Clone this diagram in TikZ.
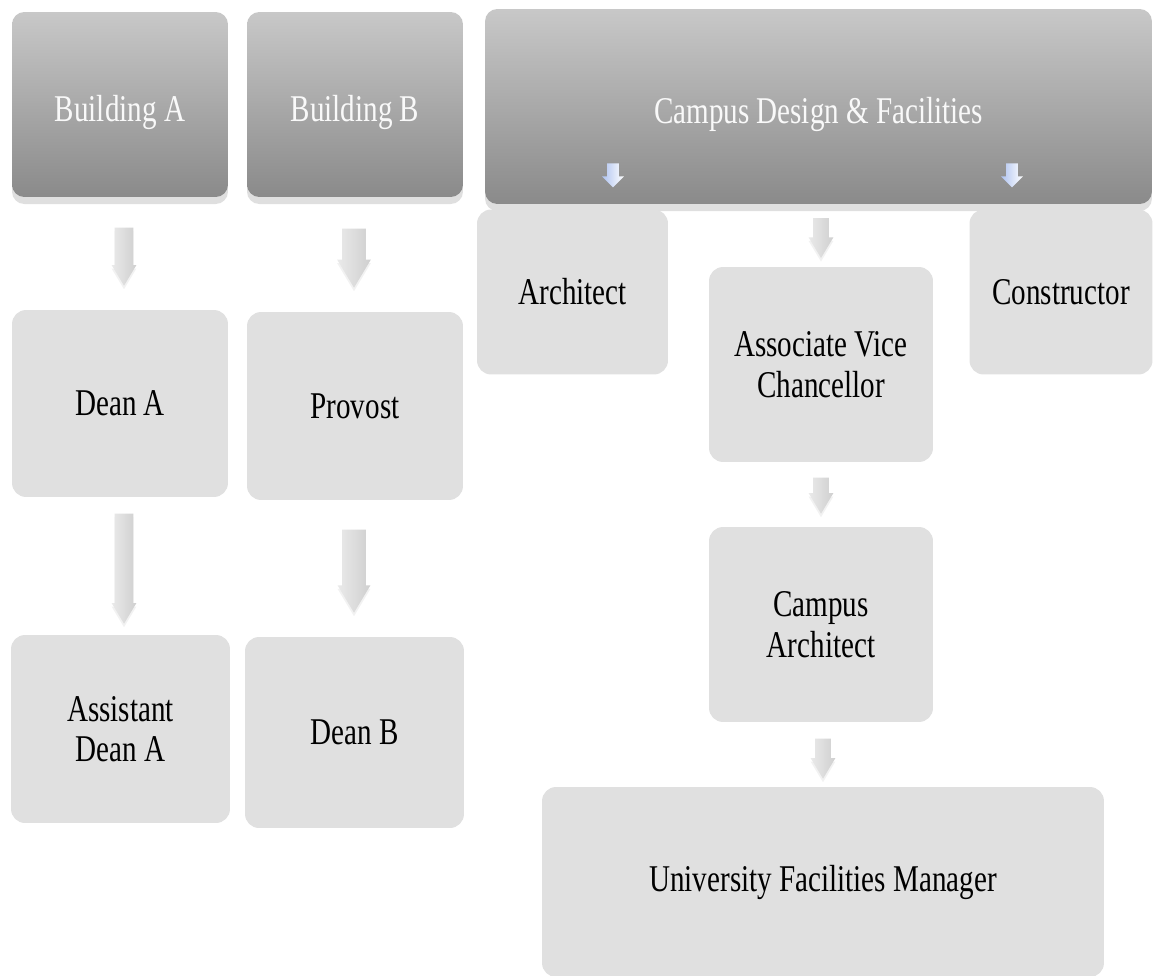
\documentclass[tikz,border=0pt]{standalone}
\usepackage{fontspec}
\newfontfamily\chartfont{Liberation Serif}[FakeStretch=0.77]
\usetikzlibrary{shapes.arrows,shadows,calc}
\definecolor{HeadTop}{HTML}{C8C8C8}
\definecolor{HeadBottom}{HTML}{8A8A8A}
\definecolor{BoxFill}{HTML}{E0E0E0}
\definecolor{ArrowTop}{HTML}{EAEAEA}
\definecolor{ArrowBottom}{HTML}{CFCFCF}
\definecolor{BlueTop}{HTML}{AFC3F0}

\begin{document}
\begin{tikzpicture}[x=0.02cm, y=-0.02cm,
    font=\chartfont\fontsize{21.5}{23}\selectfont,
    header/.style={rectangle, rounded corners=7pt, draw=none,
        top color=HeadTop, bottom color=HeadBottom, text=white!95!gray,
        text height=22pt, text depth=3pt,
        drop shadow={shadow xshift=0pt, shadow yshift=-4pt, opacity=0.25}},
    role/.style={rectangle, rounded corners=8pt, draw=none, fill=BoxFill,
        align=center, text=black},
    % rotated arrows: node's left side ends up on top
    flowarrow/.style={single arrow, draw=none, inner xsep=0pt, rotate=-90, anchor=tail,
        single arrow tip angle=62, single arrow head indent=0pt,
        left color=ArrowTop, right color=ArrowBottom,
        drop shadow={shadow xshift=0pt, shadow yshift=-2pt, opacity=0.1}},
    bluearrow/.style={single arrow, draw=none, inner xsep=0pt, inner ysep=0.11cm,
        rotate=-90, anchor=tail, single arrow tip angle=90, single arrow head indent=0pt,
        minimum height=0.48cm, single arrow head extend=0.1cm,
        left color=BlueTop, right color=white}]
    % White background and page size
    \fill[white] (0,0) rectangle (1153,976);
    \useasboundingbox (0,0) rectangle (1153,976);

    % Top row
    \node[header, minimum width=4.32cm, minimum height=3.7cm] (bldA) at (120,104.5) {Building A};
    \node[header, minimum width=4.32cm, minimum height=3.7cm] (bldB) at (355,104.5) {Building B};
    \node[header, minimum width=13.34cm, minimum height=3.9cm] (cdf) at (818.5,106.5) {Campus Design \& Facilities};

    % Building columns
    \node[role, minimum width=4.32cm, minimum height=3.74cm] (deanA) at (120,403.5) {Dean A};
    \node[role, minimum width=4.32cm, minimum height=3.76cm] (provost) at (355,406) {Provost};
    \node[role, minimum width=4.38cm, minimum height=3.76cm] (asstA) at (120.5,729) {Assistant\\Dean A};
    \node[role, minimum width=4.38cm, minimum height=3.82cm] (deanB) at (354.5,732.5) {Dean B};

    % Campus column
    \node[role, minimum width=3.82cm, minimum height=3.3cm] (arch) at (572.5,292) {Architect};
    \node[role, minimum width=3.66cm, minimum height=3.3cm] (constr) at (1061,292) {Constructor};
    \node[role, minimum width=4.48cm, minimum height=3.9cm] (avc) at (821,364.5) {Associate Vice\\Chancellor};
    \node[role, minimum width=4.48cm, minimum height=3.9cm] (carch) at (821,624.5) {Campus\\Architect};
    \node[role, minimum width=11.24cm, minimum height=3.8cm] (ufm) at (823,882) {University Facilities Manager};

    % Gray block arrows, tail just below the box above
    \node[flowarrow, minimum height=1.16cm, inner ysep=0.18cm, single arrow head extend=0.06cm]
        (arA1) at ($(bldA.south)+(4,30)$) {};
    \node[flowarrow, minimum height=1.18cm, inner ysep=0.23cm, single arrow head extend=0.1cm]
        (arB1) at ($(bldB.south)+(-1,31)$) {};
    \node[flowarrow, minimum height=2.2cm, inner ysep=0.18cm, single arrow head extend=0.06cm]
        (arA2) at ($(deanA.south)+(4,16)$) {};
    \node[flowarrow, minimum height=1.66cm, inner ysep=0.23cm, single arrow head extend=0.09cm]
        (arB2) at ($(provost.south)+(-1,29)$) {};
    \node[flowarrow, minimum height=0.8cm, inner ysep=0.15cm, single arrow head extend=0.09cm]
        (arC1) at ($(avc.north)+(0,-49)$) {};
    \node[flowarrow, minimum height=0.72cm, inner ysep=0.15cm, single arrow head extend=0.09cm]
        (arC2) at ($(avc.south)+(0,15)$) {};
    \node[flowarrow, minimum height=0.8cm, inner ysep=0.15cm, single arrow head extend=0.09cm]
        (arC3) at ($(carch.south)+(2,16)$) {};

    % Small blue arrows inside the header
    \node[bluearrow] (arArch) at (613,163) {};
    \node[bluearrow] (arConstr) at (1012,163) {};
\end{tikzpicture}
\end{document}
